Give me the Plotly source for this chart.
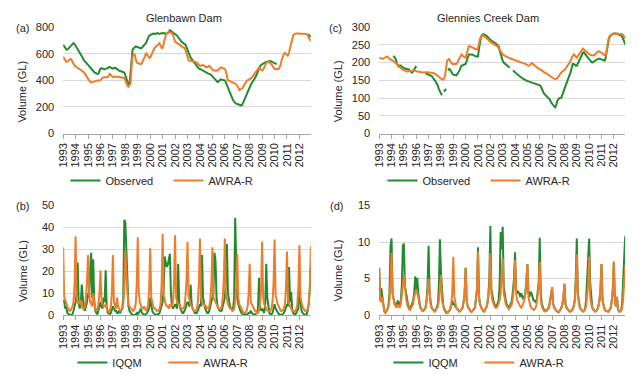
import plotly.graph_objects as go

W, H = 643, 388
GREEN = '#218B32'
ORANGE = '#EE7D2B'
FONT = 'Liberation Sans, Arial, sans-serif'
TXT = '#262626'

years = list(range(1993, 2013))
tick_labels = [str(y) for y in years]
months = list(range(len(years) * 12))
N = None

# (a) Glenbawn Dam storage (GL), one row per year, Jan..Dec
glenbawn_obs = [
    [667, 655, 640, 632, 630, 635, 645, 655, 665, 675, 679, 672],
    [660, 645, 630, 615, 606, 595, 580, 565, 550, 540, 534, 525],
    [510, 500, 490, 485, 478, 470, 461, 455, 450, 448, 450, 470],
    [488, 490, 487, 485, 484, 486, 488, 492, 498, 500, 496, 490],
    [488, 492, 495, 490, 482, 476, 473, 470, 467, 463, 461, 458],
    [440, 412, 385, 364, 372, 480, 590, 630, 640, 648, 654, 652],
    [648, 645, 642, 640, 645, 655, 662, 667, 680, 700, 727, 735],
    [740, 745, 748, 751, 750, 748, 752, 755, 750, 748, 752, 755],
    [757, 755, 752, 750, 751, 755, 765, 776, 770, 765, 760, 755],
    [751, 745, 735, 725, 712, 700, 691, 685, 680, 675, 667, 650],
    [625, 606, 590, 570, 560, 550, 540, 533, 520, 505, 495, 488],
    [485, 480, 475, 470, 465, 461, 458, 455, 450, 448, 445, 440],
    [430, 420, 412, 405, 395, 388, 392, 400, 407, 405, 402, 400],
    [400, 385, 365, 340, 320, 300, 279, 265, 250, 240, 230, 225],
    [222, 218, 215, 213, 211, 220, 240, 260, 279, 300, 320, 340],
    [352, 365, 380, 390, 400, 415, 430, 450, 473, 490, 505, 515],
    [521, 525, 530, 535, 538, 540, 542, 545, 545, 540, 535, 530],
    [530, 525, 521, N, N, N, N, N, N, N, N, N],
    [N, N, N, N, N, N, N, N, N, N, N, N],
    [N, N, N, N, N, N, N, N, 745, 742, 735, 725],
]
glenbawn_awra = [
    [578, 560, 545, 538, 540, 548, 556, 562, 555, 535, 515, 509],
    [505, 500, 495, 490, 485, 478, 470, 465, 461, 450, 435, 420],
    [412, 400, 390, 383, 385, 390, 393, 394, 396, 398, 400, 400],
    [400, 410, 420, 424, 424, 424, 423, 424, 435, 448, 440, 430],
    [424, 426, 428, 430, 428, 426, 425, 424, 422, 420, 418, 418],
    [400, 376, 360, 352, 365, 376, 500, 582, 590, 594, 560, 533],
    [530, 525, 522, 521, 530, 545, 558, 580, 606, 595, 580, 570],
    [570, 590, 615, 630, 640, 648, 654, 665, 672, 679, 660, 642],
    [642, 680, 720, 739, 750, 758, 763, 760, 758, 755, 740, 710],
    [691, 685, 680, 675, 670, 667, 660, 655, 648, 642, 630, 610],
    [580, 550, 545, 545, 545, 545, 545, 540, 535, 533, 525, 515],
    [509, 510, 512, 514, 510, 505, 497, 500, 505, 509, 500, 488],
    [478, 473, 473, 473, 473, 473, 480, 490, 497, 495, 490, 485],
    [485, 470, 440, 400, 398, 395, 390, 388, 385, 380, 376, 370],
    [360, 345, 327, 330, 336, 340, 355, 370, 388, 395, 400, 405],
    [410, 412, 420, 430, 440, 448, 460, 470, 480, 497, 490, 480],
    [473, 480, 500, 521, 530, 535, 538, 535, 528, 521, 510, 495],
    [485, 485, 485, 485, 485, 500, 520, 558, 580, 595, 606, 600],
    [590, 582, 610, 642, 680, 720, 739, 745, 750, 751, 751, 751],
    [751, 751, 751, 750, 750, 749, 748, 745, 740, 720, 703, 695],
]

# (c) Glennies Creek Dam storage (GL)
glennies_obs = [
    [N, N, N, N, N, N, N, N, N, N, N, N],
    [N, N, 219, 214, 210, 200, 190, 187, 192, 192, 188, 186],
    [184, 183, 182, 182, 182, 180, 176, 173, 172, 176, 182, 187],
    [190, N, N, N, N, N, N, N, N, 170, 169, 168],
    [167, 166, 164, 162, 158, 155, 150, 146, 142, 135, 125, 118],
    [112, 108, N, 118, 122, 126, N, 178, 182, 180, 172, 169],
    [166, 165, 164, 164, 168, 172, 178, 185, 192, 192, 194, 196],
    [196, 205, 215, 223, 223, 223, 223, 222, 220, 218, 217, 217],
    [217, 240, 265, 273, 278, 280, 279, 278, 277, 274, 270, 265],
    [264, 262, 260, 258, 256, 255, 252, 248, 246, 235, 222, 214],
    [205, 200, 197, 195, 192, 190, 188, 187, N, N, 178, 175],
    [170, 169, 167, 165, 162, 160, 158, 156, 154, 152, 151, 150],
    [148, 147, 146, 146, 145, 144, 143, 142, 142, 141, 140, 138],
    [136, 133, 128, 120, 113, 110, 107, 105, 102, 100, 95, 88],
    [83, 80, 77, 74, 80, 92, 97, 100, 101, 101, 110, 118],
    [124, 132, 140, 146, 155, 165, 173, 185, 196, 196, 193, 191],
    [191, 198, 205, 210, 215, 222, 228, 228, 224, 219, 215, 212],
    [210, 206, 202, 200, 202, 205, 205, 207, 209, 211, 211, 210],
    [208, 207, 206, 205, 212, 235, 255, 265, 272, 277, 279, 281],
    [282, 282, 282, 281, 280, 280, 279, 276, 273, 268, 260, 250],
]
glennies_awra = [
    [214, 212, 210, 210, 211, 213, 215, 217, 216, 213, 210, 208],
    [208, 206, 204, 202, 200, 198, 196, 192, 188, 184, 182, 180],
    [178, 177, 176, 175, 175, 175, 175, 176, 177, 178, 178, 177],
    [176, 175, 174, 173, 173, 172, 172, 172, 173, 173, 173, 173],
    [173, 173, 172, 172, 171, 170, 169, 167, 165, 162, 159, 157],
    [155, 153, 152, 155, 163, 185, 205, 208, 210, 205, 198, 196],
    [196, 196, 196, 196, 200, 207, 214, 218, 223, 220, 216, 214],
    [214, 225, 240, 246, 246, 245, 244, 244, 241, 238, 237, 237],
    [240, 255, 268, 272, 275, 277, 275, 272, 268, 265, 262, 260],
    [259, 257, 255, 253, 252, 250, 248, 245, 241, 236, 232, 228],
    [223, 221, 219, 217, 215, 214, 213, 212, 211, 210, 209, 208],
    [206, 205, 204, 203, 202, 201, 200, 199, 198, 197, 196, 195],
    [193, 191, 192, 195, 198, 197, 195, 193, 191, 188, 185, 182],
    [182, 180, 178, 175, 173, 171, 170, 169, 168, 165, 162, 160],
    [157, 155, 153, 153, 154, 155, 160, 165, 169, 172, 175, 177],
    [178, 182, 187, 191, 196, 200, 205, 212, 218, 223, 220, 216],
    [214, 218, 223, 228, 233, 237, 239, 237, 235, 232, 229, 226],
    [223, 222, 221, 220, 219, 220, 224, 228, 230, 232, 231, 229],
    [228, 226, 223, 221, 219, 235, 259, 268, 275, 277, 280, 281],
    [282, 282, 282, 282, 282, 282, 282, 281, 280, 278, 274, 268],
]

# (b) Glenbawn Dam monthly volume (GL)
glenbawn_iqqm = [
    [7, 6, 3, 4, 1, 0.5, 0.2, 0, 0, 0.5, 2, 4],
    [6, 10, 24, 5, 3, 6, 14, 8, 3, 2, 4, 6],
    [10, 8, 20, 28.5, 8, 25.5, 6, 2, 1, 0.5, 2, 5],
    [6, 4, 3, 8, 6, 20.5, 4, 1, 0.5, 0.5, 1, 3],
    [4, 3, 2, 2, 1, 1, 2, 1, 2, 3, 8, 43.5],
    [42.5, 28, 8, 4, 2, 1, 0.5, 0.2, 0, 0, 0.3, 1],
    [0.5, 1, 2, 3, 1, 0.5, 0.3, 0.2, 0.5, 1, 2, 3],
    [8, 4, 2, 1, 0.5, 0.3, 0.2, 0.2, 0.5, 1, 3, 5],
    [6, 12, 26.8, 24, 22, 23, 26, 28, 10, 4, 3, 4],
    [5, 4, 3, 23.5, 6, 3, 2, 1, 1, 2, 3, 5],
    [6, 5, 4, 14, 5, 3, 2, 1, 1, 1, 2, 4],
    [5, 4, 27.5, 8, 5, 3, 2, 1, 1, 2, 4, 6],
    [7, 10, 28.5, 25, 8, 4, 3, 2, 2, 2, 4, 6],
    [8, 15, 32.5, 10, 6, 4, 3, 3, 3, 8, 44.5, 25],
    [8, 5, 3, 2, 1, 0.5, 0.2, 0, 0, 0.2, 0.5, 1],
    [1, 2, 1, 0.5, 0.3, 0.2, 0.5, 1, 3, 17, 4, 2],
    [3, 2, 1, 5, 23.5, 8, 3, 1, 0.5, 0.3, 1, 3],
    [5, 3, 2, 1, 0.5, 0.3, 0.2, 0.2, 0.5, 1, 2, 4],
    [5, 4, 22, 6, 10.5, 3, 1, 0.5, 0.3, 1, 2, 3],
    [12, 5, 2, 1, 0.5, 0.2, 0.2, 0.5, 2, 5, 12, 21.5],
]
glenbawn_flow_awra = [
    [31, 8, 7, 5, 4, 3, 2, 2, 3, 4, 6, 14],
    [36, 8, 6, 5, 7, 5, 4, 3, 3, 4, 8, 15],
    [27.5, 10, 6, 5, 4, 10, 6, 3, 2, 3, 5, 10],
    [20.5, 7, 5, 4, 4, 5, 3, 2, 1.5, 2, 4, 10],
    [27.5, 6, 4, 3, 8, 4, 3, 2, 2, 3, 5, 12],
    [29, 18, 10, 5, 4, 3, 3, 2, 2, 3, 5, 14],
    [35.5, 10, 6, 4, 3, 3, 4, 3, 2, 3, 5, 12],
    [30.5, 8, 5, 4, 3, 3, 2, 2, 2, 3, 5, 14],
    [37, 9, 6, 5, 4, 4, 3, 5, 4, 4, 6, 15],
    [36.5, 8, 6, 5, 5, 4, 3, 3, 3, 4, 8, 16],
    [33.5, 9, 6, 5, 4, 3, 2, 2, 2, 3, 6, 15],
    [35, 8, 6, 5, 5, 4, 4, 3, 3, 4, 7, 14],
    [31, 8, 7, 6, 5, 4, 3, 3, 3, 4, 8, 16],
    [35, 10, 7, 5, 4, 3, 3, 2, 2, 3, 6, 14],
    [28, 8, 5, 4, 3, 2, 1, 1, 1, 2, 4, 10],
    [23.5, 6, 5, 4, 3, 2, 2, 1, 1, 2, 5, 12],
    [33.5, 8, 5, 4, 3, 2, 2, 2, 2, 3, 6, 14],
    [34.5, 9, 6, 5, 4, 3, 2, 2, 2, 3, 5, 12],
    [29, 7, 5, 4, 3, 2, 2, 1.5, 1.5, 3, 5, 13],
    [32, 8, 5, 4, 3, 2, 2, 2, 3, 5, 12, 31.5],
]

# (d) Glennies Creek Dam monthly volume (GL)
glennies_iqqm = [
    [6.5, 2, 3.7, 2.5, 1.5, 0.5, 0.3, 0.5, 0.8, 1.2, 3, 9.5],
    [10.5, 3, 2, 1.5, 1.5, 1.2, 2, 1.5, 1.2, 2, 4, 9.5],
    [9.8, 4, 3, 2, 1.5, 1, 1, 1.2, 1.5, 2, 3, 5.3],
    [3.5, 5.1, 3, 1.5, 1, 0.8, 0.6, 0.6, 0.8, 1, 2, 4],
    [9.5, 3, 1.8, 1, 0.8, 0.6, 0.5, 0.7, 1, 1.5, 4, 10.4],
    [6, 2.5, 1.5, 1, 0.6, 0.4, 0.3, 0.4, 0.6, 0.8, 1.5, 2],
    [1.5, 1.5, 1.2, 1, 0.8, 0.6, 0.5, 0.6, 0.8, 1, 1.8, 3],
    [6.5, 2, 1.2, 1, 0.7, 0.5, 0.5, 0.6, 0.8, 1, 2, 3.5],
    [9.3, 2.5, 1.5, 1, 0.8, 0.6, 0.5, 0.8, 1, 1.5, 2.5, 5],
    [12.2, 3.5, 2.5, 2, 1.5, 1.2, 1.2, 1.5, 2, 4, 11.4, 9],
    [12.1, 4, 2.5, 2, 1.5, 1.2, 1, 1.2, 1.5, 2, 3.5, 5],
    [8.6, 3.5, 3, 3.2, 3, 2.5, 3, 2.5, 2.2, 2.5, 3, 4.5],
    [7, 3, 2.5, 3.2, 3, 2.5, 2, 2, 1.8, 2, 3, 4.5],
    [10.6, 3, 1.5, 1, 0.8, 0.6, 0.6, 0.7, 0.9, 1.2, 2, 3],
    [3.8, 1.5, 1, 0.8, 0.6, 0.5, 0.4, 0.5, 0.7, 1, 1.5, 2.5],
    [4.3, 1.5, 1, 0.8, 0.6, 0.5, 0.5, 0.6, 0.8, 1.2, 2, 5],
    [10.5, 3, 1.5, 1, 0.8, 0.6, 0.5, 0.6, 0.8, 2, 5, 7],
    [10.5, 4.5, 2, 1, 0.8, 0.6, 0.5, 0.6, 0.8, 1.2, 2, 3.5],
    [7, 2, 1.2, 0.8, 0.6, 0.5, 0.5, 0.5, 0.7, 1, 2, 3.5],
    [7.3, 2, 1.2, 2.5, 0.8, 0.5, 0.5, 0.6, 1.5, 4, 8, 10.8],
]
glennies_flow_awra = [
    [6.5, 2, 1.8, 2.5, 1.5, 0.5, 0.3, 0.5, 0.8, 1.2, 2, 4.5],
    [8.5, 3, 2, 1.5, 1.2, 1, 1.5, 1.2, 1, 1.5, 2.5, 4],
    [5.5, 3.5, 2.5, 1.5, 1, 0.8, 0.7, 1, 1.2, 1.5, 2.5, 3],
    [3.5, 3, 2.5, 1.5, 1, 0.8, 0.6, 0.6, 0.8, 1, 2, 3],
    [5, 2.5, 1.5, 1, 0.8, 0.6, 0.5, 0.7, 1, 1.2, 2, 3.5],
    [5.5, 2, 1.2, 0.8, 0.5, 0.3, 0.3, 0.4, 0.6, 0.8, 1.5, 3],
    [8, 2.5, 1.5, 1, 0.8, 0.6, 0.5, 0.6, 0.8, 1, 1.8, 3],
    [6.5, 2, 1.2, 1, 0.7, 0.5, 0.5, 0.6, 0.8, 1, 2, 3.5],
    [8.7, 2.5, 1.5, 1, 0.8, 0.6, 0.5, 0.8, 1, 1.5, 2.5, 4],
    [8.5, 3, 2, 1.5, 1.2, 1, 1, 1.2, 1.5, 2, 3, 5],
    [7.8, 3, 2, 1.5, 1.2, 1, 0.8, 1, 1.2, 1.5, 2.5, 4],
    [7.5, 3, 2, 1.8, 1.5, 1.2, 1, 1.2, 1.5, 2, 3, 4.5],
    [7, 2.5, 1.5, 1.2, 1, 0.8, 0.7, 0.8, 1, 1.5, 2.5, 4],
    [7.3, 2, 1.2, 0.8, 0.6, 0.5, 0.5, 0.6, 0.8, 1, 1.8, 2.5],
    [3.8, 1.5, 1, 0.8, 0.6, 0.5, 0.4, 0.5, 0.7, 1, 1.5, 2.5],
    [4.3, 1.5, 1, 0.8, 0.6, 0.5, 0.5, 0.6, 0.8, 1.2, 2, 4],
    [8.3, 2.5, 1.5, 1, 0.8, 0.6, 0.5, 0.6, 0.8, 1.2, 2.5, 4],
    [8, 2.5, 1.5, 1, 0.8, 0.6, 0.5, 0.6, 0.8, 1.2, 2, 3.5],
    [7, 2, 1.2, 0.8, 0.6, 0.5, 0.5, 0.5, 0.7, 1, 2, 3.5],
    [7.3, 2, 1.2, 2.5, 0.8, 0.5, 0.5, 0.6, 1, 2, 4.5, 6.5],
]


def flat(rows):
    return [v for r in rows for v in r]


# ---- layout geometry (pixels) ----
def px_x(p):
    return p / W


def px_y(p):
    return 1 - p / H


left_dom = [px_x(57.7), px_x(307.7)]
right_dom = [px_x(376.7), px_x(625.0)]
top_dom = [px_y(131.7), px_y(21.7)]
bot_dom = [px_y(319.0), px_y(206.0)]

panels = [
    ('x', 'y', left_dom, top_dom, [0, 800], 200,
     [glenbawn_obs, glenbawn_awra], ['Observed', 'AWRA-R'], 'legend'),
    ('x2', 'y2', right_dom, top_dom, [0, 300], 50,
     [glennies_obs, glennies_awra], ['Observed', 'AWRA-R'], 'legend2'),
    ('x3', 'y3', left_dom, bot_dom, [0, 50], 10,
     [glenbawn_iqqm, glenbawn_flow_awra], ['IQQM', 'AWRA-R'], 'legend3'),
    ('x4', 'y4', right_dom, bot_dom, [0, 15], 5,
     [glennies_iqqm, glennies_flow_awra], ['IQQM', 'AWRA-R'], 'legend4'),
]

fig = go.Figure()
layout = dict(
    width=W, height=H, margin=dict(l=0, r=0, t=0, b=0),
    paper_bgcolor='white', plot_bgcolor='white',
    font=dict(family=FONT, size=11, color=TXT),
    showlegend=True,
)

tickvals = [i * 12 for i in range(len(years))]
for xa, ya, xd, yd, yr, dt, series, names, leg in panels:
    for s, nm, col in zip(series, names, [GREEN, ORANGE]):
        fig.add_trace(go.Scatter(
            x=months, y=flat(s), mode='lines', name=nm,
            line=dict(color=col, width=2), connectgaps=False,
            xaxis=xa, yaxis=ya, legend=leg, hoverinfo='skip'))
    xkey = 'xaxis' + xa[1:]
    ykey = 'yaxis' + ya[1:]
    layout[xkey] = dict(
        domain=xd, anchor=ya, range=[0, 239], showgrid=False, zeroline=False,
        tickmode='array', tickvals=tickvals, ticktext=tick_labels,
        tickangle=-90, ticks='outside', ticklen=4, tickcolor='#A6A6A6',
        showline=True, linecolor='#A6A6A6', linewidth=1,
        tickfont=dict(size=11, color=TXT), fixedrange=True)
    layout[ykey] = dict(
        domain=yd, anchor=xa, range=yr, dtick=dt, showgrid=True,
        gridcolor='#D9D9D9', gridwidth=1, zeroline=False, showline=False,
        ticks='', ticklabelstandoff=8, tickfont=dict(size=11, color=TXT),
        fixedrange=True)

legend_pos = {
    'legend': (60, 180),
    'legend2': (380, 180),
    'legend3': (67, 368),
    'legend4': (386, 368),
}
entry_w = {'legend': 58, 'legend2': 58, 'legend3': 46, 'legend4': 46}
for k, (lx, ly) in legend_pos.items():
    layout[k] = dict(
        orientation='h', x=px_x(lx), y=px_y(ly), xanchor='left',
        yanchor='middle', bgcolor='rgba(0,0,0,0)', borderwidth=0,
        itemwidth=30, entrywidth=entry_w[k], entrywidthmode='pixels',
        font=dict(family=FONT, size=11, color=TXT), tracegroupgap=0)

annotations = []


def ann(text, x, y, **kw):
    d = dict(text=text, x=px_x(x), y=px_y(y), xref='paper', yref='paper',
             showarrow=False, font=dict(family=FONT, size=11, color=TXT),
             xanchor='center', yanchor='middle')
    d.update(kw)
    annotations.append(d)


ann('Glenbawn Dam', 180, 12)
ann('Glennies Creek Dam', 487, 12)
ann('(a)', 16.5, 22.5)
ann('(c)', 333, 22.5)
ann('(b)', 16.5, 206.5)
ann('(d)', 334, 206.5)
ann('Volume (GL)', 16.5, 88, textangle=-90)
ann('Volume (GL)', 335, 88, textangle=-90)
ann('Volume (GL)', 16.5, 273, textangle=-90)
ann('Volume (GL)', 335, 273, textangle=-90)
layout['annotations'] = annotations

fig.update_layout(**layout)
fig.write_html('out.html', config={'displayModeBar': False},
               post_script="document.body.style.margin='0px';")
